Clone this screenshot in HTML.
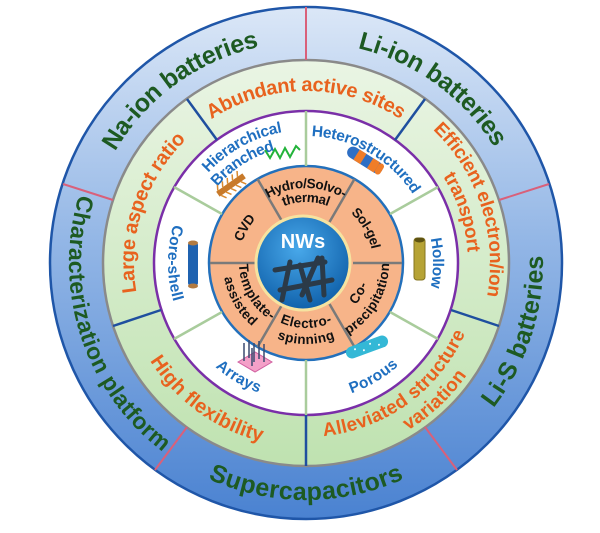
<!DOCTYPE html>
<html><head><meta charset="utf-8"><style>
html,body{margin:0;padding:0;background:#fff;width:600px;height:533px;overflow:hidden}
svg{display:block}
text{font-family:"Liberation Sans","DejaVu Sans",sans-serif;font-weight:bold}
</style></head><body>
<svg width="600" height="533" viewBox="0 0 600 533" xmlns="http://www.w3.org/2000/svg">
<defs>
<linearGradient id="gOut" x1="0" y1="0" x2="0" y2="1">
<stop offset="0" stop-color="#dbe7f7"/><stop offset="0.45" stop-color="#94b7e6"/><stop offset="1" stop-color="#4a82d1"/></linearGradient>
<linearGradient id="gGreen" x1="0" y1="0" x2="0" y2="1">
<stop offset="0" stop-color="#eaf5e4"/><stop offset="1" stop-color="#bfe2b0"/></linearGradient>
<radialGradient id="gNW" cx="0.45" cy="0.35" r="0.7">
<stop offset="0" stop-color="#48a8ea"/><stop offset="1" stop-color="#0c5ca6"/></radialGradient>
<path id="c229" d="M306,492 A229,229 0 1 1 306,34 A229,229 0 1 1 306,492"/>
<path id="c190" d="M306,453 A190,190 0 1 1 306,73 A190,190 0 1 1 306,453"/>
<path id="c178" d="M306,441 A178,178 0 1 1 306,85 A178,178 0 1 1 306,441"/>
<path id="c168" d="M306,431 A168,168 0 1 1 306,95 A168,168 0 1 1 306,431"/>
<path id="c138" d="M306,401 A138,138 0 1 1 306,125 A138,138 0 1 1 306,401"/>
<path id="c132" d="M306,395 A132,132 0 1 1 306,131 A132,132 0 1 1 306,395"/>
<path id="c122" d="M306,385 A122,122 0 1 1 306,141 A122,122 0 1 1 306,385"/>
<path id="c80" d="M306,343 A80,80 0 1 1 306,183 A80,80 0 1 1 306,343"/>
<path id="c72" d="M306,335 A72,72 0 1 1 306,191 A72,72 0 1 1 306,335"/>
<path id="c66" d="M306,329 A66,66 0 1 1 306,197 A66,66 0 1 1 306,329"/>
<path id="a229" d="M306,34 A229,229 0 1 0 306,492 A229,229 0 1 0 306,34"/>
<path id="a190" d="M306,73 A190,190 0 1 0 306,453 A190,190 0 1 0 306,73"/>
<path id="a178" d="M306,85 A178,178 0 1 0 306,441 A178,178 0 1 0 306,85"/>
<path id="a168" d="M306,95 A168,168 0 1 0 306,431 A168,168 0 1 0 306,95"/>
<path id="a133" d="M306,130 A133,133 0 1 0 306,396 A133,133 0 1 0 306,130"/>
<path id="a78" d="M306,185 A78,78 0 1 0 306,341 A78,78 0 1 0 306,185"/>
<path id="a76" d="M306,187 A76,76 0 1 0 306,339 A76,76 0 1 0 306,187"/>
<path id="a62" d="M306,201 A62,62 0 1 0 306,325 A62,62 0 1 0 306,201"/>
<path id="a60" d="M306,203 A60,60 0 1 0 306,323 A60,60 0 1 0 306,203"/>
</defs>

<circle cx="306" cy="263" r="256" fill="url(#gOut)" stroke="#1f56a8" stroke-width="2.5"/>
<circle cx="306" cy="263" r="203" fill="url(#gGreen)" stroke="#8a8a8a" stroke-width="2.5"/>
<circle cx="306" cy="263" r="152" fill="#fff" stroke="#7a2fa8" stroke-width="2.5"/>
<circle cx="306" cy="263" r="97" fill="#f7b489" stroke="#2370bb" stroke-width="2.5"/>

<g stroke="#d9607a" stroke-width="2">
<line x1="306" y1="60" x2="306" y2="7"/><line x1="113" y1="200" x2="63" y2="184"/>
<line x1="187" y1="427" x2="155" y2="470"/><line x1="425" y1="427" x2="457" y2="470"/>
<line x1="499" y1="200" x2="549" y2="184"/></g>
<g stroke="#1f4f9f" stroke-width="2.5">
<line x1="306" y1="415" x2="306" y2="466"/><line x1="451" y1="310" x2="499" y2="326"/>
<line x1="395" y1="140" x2="425" y2="99"/><line x1="217" y1="140" x2="187" y2="99"/>
<line x1="161" y1="310" x2="113" y2="326"/></g>
<g stroke="#a9cc9c" stroke-width="2.5">
<line x1="390" y1="214" x2="438" y2="187"/><line x1="306" y1="166" x2="306" y2="111"/>
<line x1="222" y1="214" x2="174" y2="187"/><line x1="222" y1="312" x2="174" y2="339"/>
<line x1="306" y1="360" x2="306" y2="415"/><line x1="390" y1="312" x2="438" y2="339"/></g>
<g stroke="#7a7a7a" stroke-width="2.5">
<line x1="353" y1="263" x2="402" y2="263"/><line x1="329.5" y1="222" x2="354.5" y2="179"/>
<line x1="282.5" y1="222" x2="257.5" y2="179"/><line x1="259" y1="263" x2="210" y2="263"/>
<line x1="282.5" y1="304" x2="257.5" y2="347"/><line x1="329.5" y1="304" x2="354.5" y2="347"/></g>

<circle cx="303" cy="263" r="47" fill="url(#gNW)" stroke="#f6e3a0" stroke-width="3"/>
<text x="303" y="248" font-size="20" fill="#fff" text-anchor="middle">NWs</text>
<g stroke="#2b3a48" stroke-width="5" stroke-linecap="round">
<line x1="275" y1="270" x2="325" y2="262"/><line x1="280" y1="290" x2="332" y2="280"/>
<line x1="290" y1="262" x2="282" y2="300"/><line x1="300" y1="265" x2="310" y2="300"/>
<line x1="318" y1="258" x2="302" y2="295"/><line x1="322" y1="258" x2="324" y2="295"/></g>

<g font-size="25" fill="#1d5a22" dominant-baseline="central" text-anchor="middle">
<text><textPath href="#c229" startOffset="40%">Na-ion batteries</textPath></text>
<text><textPath href="#c229" startOffset="60%">Li-ion batteries</textPath></text>
<text font-size="23"><textPath href="#a229" startOffset="30%">Characterization platform</textPath></text>
<text><textPath href="#a229" startOffset="50%">Supercapacitors</textPath></text>
<text><textPath href="#a229" startOffset="70%">Li-S batteries</textPath></text>
</g>
<g font-size="20" fill="#e8621e" dominant-baseline="central" text-anchor="middle">
<text><textPath href="#c178" startOffset="50%">Abundant active sites</textPath></text>
<text><textPath href="#c178" startOffset="30%">Large aspect ratio</textPath></text>
<text><textPath href="#a178" startOffset="40%">High flexibility</textPath></text>
<text font-size="19"><textPath href="#c190" startOffset="70%">Efficient electron/ion</textPath></text>
<text font-size="19"><textPath href="#c168" startOffset="70%">transport</textPath></text>
<text font-size="19"><textPath href="#a168" startOffset="60%">Alleviated structure</textPath></text>
<text font-size="19"><textPath href="#a190" startOffset="62%">variation</textPath></text>
</g>
<g font-size="15.5" fill="#1f6fc0" dominant-baseline="central" text-anchor="middle">
<text><textPath href="#c132" startOffset="58.3%">Heterostructured</textPath></text>
<text><textPath href="#c138" startOffset="42%">Hierarchical</textPath></text>
<text><textPath href="#c122" startOffset="41%">Branched</textPath></text>
<text><textPath href="#c132" startOffset="75%">Hollow</textPath></text>
<text><textPath href="#a133" startOffset="25%">Core-shell</textPath></text>
<text><textPath href="#a133" startOffset="41.5%">Arrays</textPath></text>
<text><textPath href="#a133" startOffset="58.5%">Porous</textPath></text>
</g>
<g font-size="13.5" fill="#111" dominant-baseline="central" text-anchor="middle">
<text><textPath href="#c80" startOffset="50%">Hydro/Solvo-</textPath></text>
<text><textPath href="#c66" startOffset="50%">thermal</textPath></text>
<text><textPath href="#c72" startOffset="66.7%">Sol-gel</textPath></text>
<text><textPath href="#c72" startOffset="33.3%">CVD</textPath></text>
<text><textPath href="#a60" startOffset="66.7%">Co-</textPath></text>
<text><textPath href="#a78" startOffset="66.7%">precipitation</textPath></text>
<text><textPath href="#a60" startOffset="50%">Electro-</textPath></text>
<text><textPath href="#a76" startOffset="50%">spinning</textPath></text>
<text><textPath href="#a62" startOffset="33.3%">Template-</textPath></text>
<text><textPath href="#a78" startOffset="33.3%">assisted</textPath></text>
</g>

<polyline points="265,150 270,158 275,149 280,158 285,148 290,157 296,146 300,150" fill="none" stroke="#22b33a" stroke-width="2"/>
<g transform="translate(231,185) rotate(-35)">
<rect x="-16" y="-3" width="32" height="6" fill="#c87a2a"/>
<g stroke="#d98a30" stroke-width="1.5">
<line x1="-14" y1="-3" x2="-11" y2="-8"/><line x1="-8" y1="-3" x2="-5" y2="-8"/><line x1="-2" y1="-3" x2="1" y2="-8"/><line x1="4" y1="-3" x2="7" y2="-8"/><line x1="10" y1="-3" x2="13" y2="-8"/>
<line x1="-14" y1="3" x2="-11" y2="8"/><line x1="-8" y1="3" x2="-5" y2="8"/><line x1="-2" y1="3" x2="1" y2="8"/><line x1="4" y1="3" x2="7" y2="8"/><line x1="10" y1="3" x2="13" y2="8"/></g></g>
<g transform="translate(365,160) rotate(32)">
<rect x="-20" y="-6" width="40" height="12" rx="6" fill="#2e6fc4"/>
<rect x="-10" y="-6" width="8" height="12" fill="#f07d28"/><rect x="6" y="-6" width="8" height="12" fill="#f07d28"/>
<rect x="14" y="-6" width="6" height="12" rx="3" fill="#f07d28"/></g>
<rect x="414" y="238" width="11" height="42" rx="3" fill="#b6a335" stroke="#857520" stroke-width="1"/>
<ellipse cx="419.5" cy="240" rx="5" ry="2.5" fill="#5e5312"/>
<rect x="188" y="242" width="10" height="44" rx="3" fill="#1f62b0"/>
<ellipse cx="193" cy="243" rx="5" ry="2.5" fill="#b27a40"/><ellipse cx="193" cy="286" rx="5" ry="2.5" fill="#b27a40"/>
<polygon points="238,362 255,352 272,362 255,372" fill="#f4a0c8" stroke="#d060a0" stroke-width="1"/>
<g stroke="#3a4a70" stroke-width="1.5">
<line x1="244" y1="361" x2="244" y2="343"/><line x1="249" y1="358" x2="249" y2="340"/><line x1="254" y1="362" x2="254" y2="343"/>
<line x1="259" y1="359" x2="259" y2="341"/><line x1="264" y1="362" x2="264" y2="344"/><line x1="252" y1="366" x2="252" y2="348"/></g>
<g transform="translate(367,347) rotate(-20)">
<rect x="-22" y="-6" width="44" height="12" rx="6" fill="#34b8d6"/>
<g fill="#fff"><circle cx="-12" cy="-2" r="1"/><circle cx="-4" cy="2" r="1"/><circle cx="4" cy="-2" r="1"/><circle cx="12" cy="2" r="1"/></g></g>
</svg>
</body></html>
